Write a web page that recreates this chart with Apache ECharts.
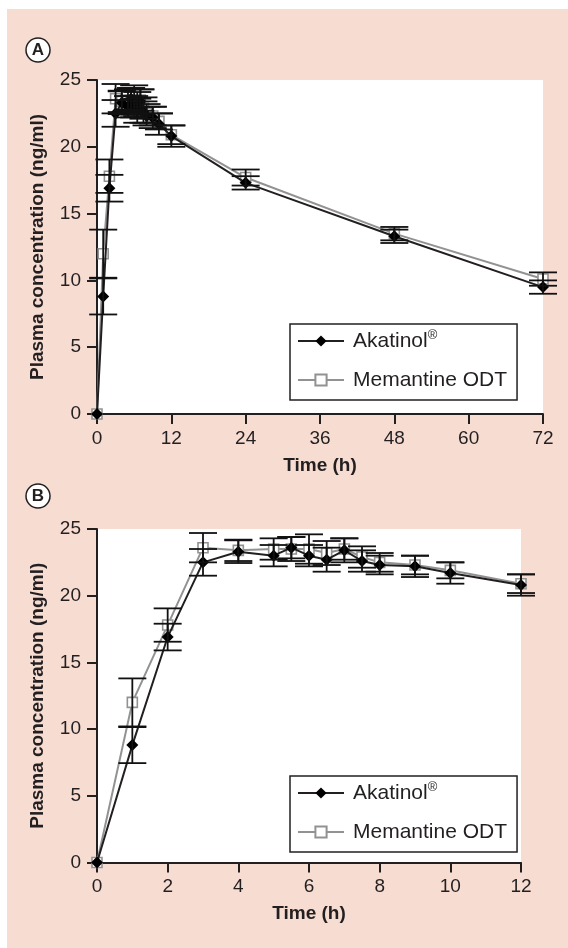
<!DOCTYPE html>
<html>
<head>
<meta charset="utf-8">
<script src="https://cdn.jsdelivr.net/npm/echarts@6/dist/echarts.min.js"></script>
<style>
html,body{margin:0;padding:0;background:#fff;}
#bg{position:absolute;left:7px;top:9px;width:561px;height:939px;background:#f7dcd2;}
#chart{position:absolute;left:0;top:0;width:568px;height:948px;}
</style>
</head>
<body>
<div id="bg"></div>
<div id="chart"></div>
<script>
// ---- data ----
const timeShort = [0, 1, 2, 3, 4, 5, 5.5, 6, 6.5, 7, 7.5, 8, 9, 10, 12];
const timeLong = [24, 48, 72];
const akatShort = [0, 8.8, 16.9, 22.5, 23.3, 23.0, 23.6, 23.0, 22.7, 23.4, 22.6, 22.3, 22.2, 21.7, 20.8];
const akatShortSd = [0, 1.35, 1.0, 1.0, 0.85, 0.8, 0.8, 0.8, 0.9, 0.9, 0.8, 0.7, 0.8, 0.8, 0.8];
const memShort = [0, 12.0, 17.8, 23.6, 23.4, 23.5, 23.5, 23.5, 23.2, 23.5, 22.9, 22.5, 22.3, 21.9, 20.9];
const memShortSd = [0, 1.8, 1.25, 1.1, 0.8, 0.8, 0.9, 1.1, 0.9, 0.8, 0.8, 0.7, 0.7, 0.6, 0.7];
const akatLong = [17.3, 13.3, 9.5];
const akatLongSd = [0.5, 0.5, 0.5];
const memLong = [17.7, 13.5, 10.1];
const memLongSd = [0.6, 0.5, 0.5];
const yTicks = [0, 5, 10, 15, 20, 25];
const xTicksA = [0, 12, 24, 36, 48, 60, 72];
const xTicksB = [0, 2, 4, 6, 8, 10, 12];
const names = ['Akatinol', 'Memantine ODT'];

// ---- build ----
const FONT = 'Liberation Sans, Arial, Helvetica, sans-serif';
const INK = '#231f20';
const GREY = '#929292';

function pts(t, v) { return t.map((x, i) => [x, v[i]]); }
function errs(t, v, s) { return t.map((x, i) => [x, v[i] - s[i], v[i] + s[i]]); }

const timeAll = timeShort.concat(timeLong);
const akatAll = akatShort.concat(akatLong), akatAllSd = akatShortSd.concat(akatLongSd);
const memAll = memShort.concat(memLong), memAllSd = memShortSd.concat(memLongSd);

function errRender(params, api) {
  const x = api.value(0), lo = api.value(1), hi = api.value(2);
  if (hi - lo <= 0) return null;
  const a = api.coord([x, lo]), b = api.coord([x, hi]);
  const hw = 14;
  const st = { stroke: '#111', lineWidth: 1.8 };
  return {
    type: 'group',
    children: [
      { type: 'line', shape: { x1: a[0], y1: a[1], x2: b[0], y2: b[1] }, style: st },
      { type: 'line', shape: { x1: a[0] - hw, y1: a[1], x2: a[0] + hw, y2: a[1] }, style: st },
      { type: 'line', shape: { x1: b[0] - hw, y1: b[1], x2: b[0] + hw, y2: b[1] }, style: st }
    ]
  };
}

function yAxis(gi) {
  return {
    type: 'value', gridIndex: gi, min: 0, max: 25, interval: 5,
    name: 'Plasma concentration (ng/ml)', nameLocation: 'middle', nameGap: 50,
    nameTextStyle: { fontFamily: FONT, fontWeight: 'bold', fontSize: 19, color: INK },
    axisLine: { show: true, lineStyle: { color: INK, width: 2 } },
    axisTick: { show: true, length: 10, lineStyle: { color: INK, width: 2 } },
    axisLabel: { margin: 16, fontFamily: FONT, fontSize: 19, color: INK },
    splitLine: { show: false }
  };
}
function xAxis(gi, max, interval) {
  return {
    type: 'value', gridIndex: gi, min: 0, max: max, interval: interval,
    name: 'Time (h)', nameLocation: 'middle', nameGap: 42,
    nameTextStyle: { fontFamily: FONT, fontWeight: 'bold', fontSize: 19, color: INK },
    axisLine: { show: true, onZero: false, lineStyle: { color: INK, width: 2 } },
    axisTick: { show: true, length: 10, lineStyle: { color: INK, width: 2 } },
    axisLabel: { margin: 15, fontFamily: FONT, fontSize: 19, color: INK },
    splitLine: { show: false }
  };
}
function legend(top) {
  return {
    show: true, orient: 'vertical', left: 290, top: top,
    data: names,
    backgroundColor: '#fff', borderColor: INK, borderWidth: 1.5, borderRadius: 0,
    padding: [5, 10, 8, 7], itemGap: 15, itemWidth: 46, itemHeight: 14,
    textStyle: { fontFamily: FONT, fontSize: 21, color: INK, lineHeight: 24, padding: [0, 0, 0, 4],
      rich: { sup: { fontFamily: FONT, fontSize: 13, color: INK, verticalAlign: 'top', lineHeight: 14, padding: [0, 0, 8, 0] } } },
    formatter: n => n === 'Akatinol' ? 'Akatinol{sup|®}' : n
  };
}
function lineSeries(name, gi, data) {
  const isA = name === 'Akatinol';
  return {
    type: 'line', name: name, xAxisIndex: gi, yAxisIndex: gi, data: data,
    symbol: isA ? 'diamond' : 'rect', symbolSize: isA ? 12 : 10,
    lineStyle: { color: isA ? INK : GREY, width: 2 },
    itemStyle: isA ? { color: '#000' } : { color: '#fff', borderColor: GREY, borderWidth: 1.6 },
    animation: false, z: isA ? 4 : 3
  };
}
function errSeries(gi, data) {
  return { type: 'custom', xAxisIndex: gi, yAxisIndex: gi, data: data, renderItem: errRender, z: 5, animation: false, silent: true };
}

const option = {
  animation: false,
  backgroundColor: 'transparent',
  grid: [
    { left: 97, top: 80, width: 446, height: 334, show: true, backgroundColor: '#fff', borderWidth: 0 },
    { left: 97, top: 529, width: 424, height: 333.5, show: true, backgroundColor: '#fff', borderWidth: 0 }
  ],
  xAxis: [xAxis(0, 72, 12), xAxis(1, 12, 2)],
  yAxis: [yAxis(0), yAxis(1)],
  legend: [legend(324), legend(776)],
  series: [
    errSeries(0, errs(timeAll, memAll, memAllSd)),
    errSeries(0, errs(timeAll, akatAll, akatAllSd)),
    lineSeries('Memantine ODT', 0, pts(timeAll, memAll)),
    lineSeries('Akatinol', 0, pts(timeAll, akatAll)),
    errSeries(1, errs(timeShort, memShort, memShortSd)),
    errSeries(1, errs(timeShort, akatShort, akatShortSd)),
    lineSeries('Memantine ODT', 1, pts(timeShort, memShort)),
    lineSeries('Akatinol', 1, pts(timeShort, akatShort))
  ],
  graphic: [
    { type: 'circle', shape: { cx: 38, cy: 50, r: 12 }, style: { fill: '#fff', stroke: INK, lineWidth: 1.5 } },
    { type: 'text', x: 38, y: 50, style: { text: 'A', font: 'bold 17px ' + FONT, fill: INK, align: 'center', verticalAlign: 'middle' } },
    { type: 'circle', shape: { cx: 38, cy: 496, r: 12 }, style: { fill: '#fff', stroke: INK, lineWidth: 1.5 } },
    { type: 'text', x: 38, y: 496, style: { text: 'B', font: 'bold 17px ' + FONT, fill: INK, align: 'center', verticalAlign: 'middle' } }
  ]
};
const chart = echarts.init(document.getElementById('chart'), null, { renderer: 'canvas' });
chart.setOption(option);
</script>
</body>
</html>
